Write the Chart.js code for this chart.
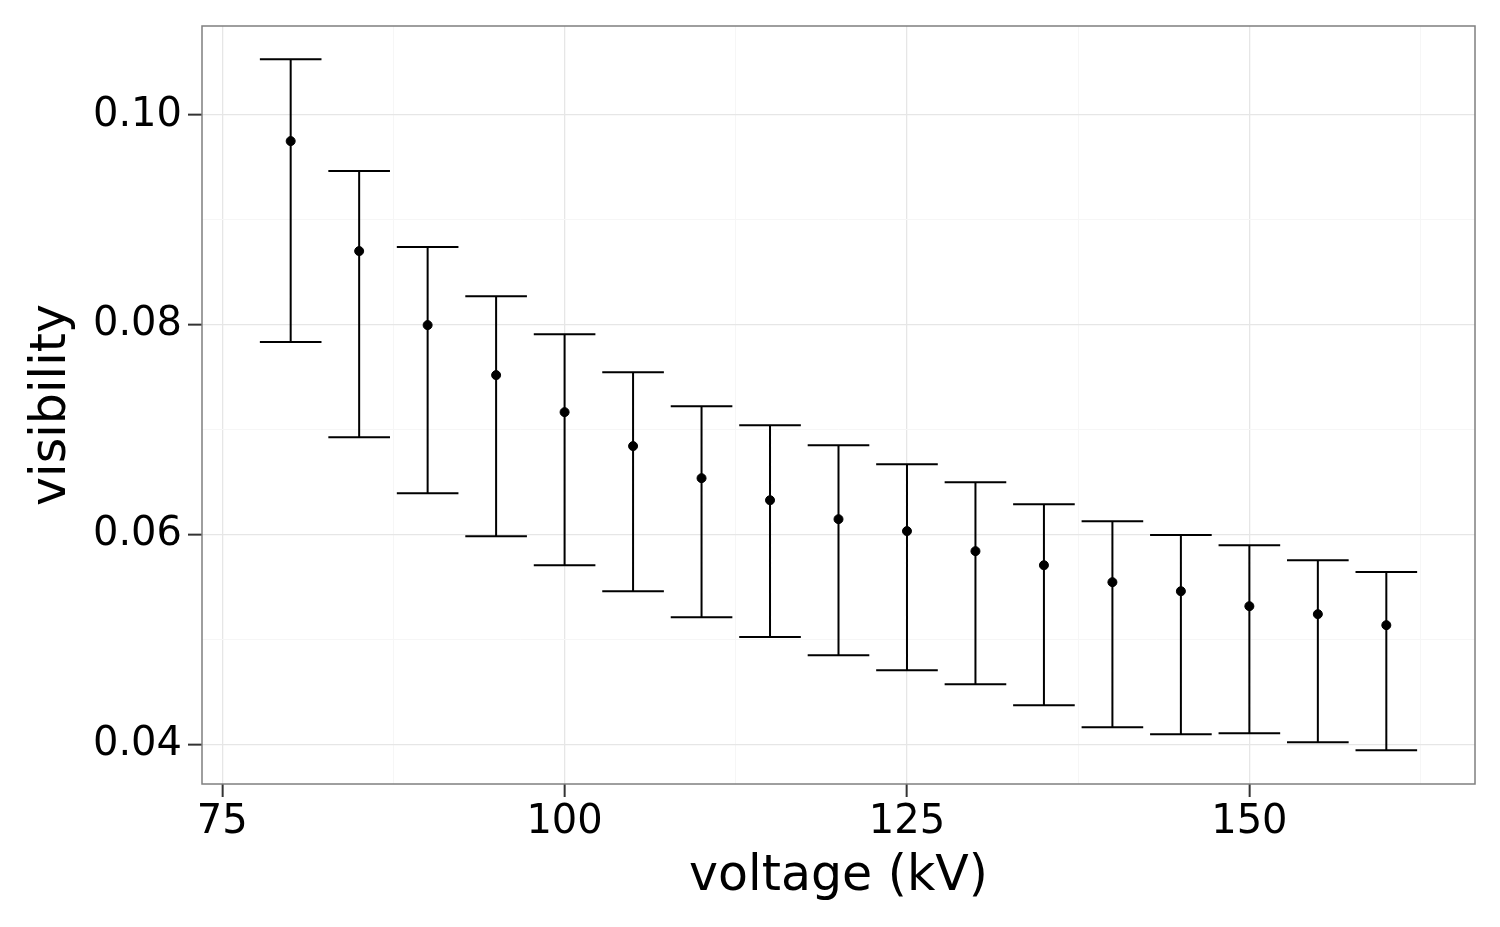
<!DOCTYPE html>
<html lang="en">
<head>
    <meta charset="UTF-8">
    <title>Visibility vs voltage</title>
    <style>
        body {
            margin: 0;
            background-color: #fff;
        }
        #wrap {
            width: 1500px;
            height: 927px;
        }
    </style>
</head>
<body>
    <div id="wrap"><canvas id="chart"></canvas></div>
    <script src="https://cdn.jsdelivr.net/npm/chart.js"></script>
    <script>
        // data
        const voltage = [80, 85, 90, 95, 100, 105, 110, 115, 120, 125, 130, 135, 140, 145, 150, 155, 160];
        const visibility = [0.09752, 0.08703, 0.07997, 0.07520, 0.07167, 0.06843, 0.06537, 0.06327, 0.06146, 0.06032, 0.05841, 0.05707, 0.05545, 0.05459, 0.05316, 0.05240, 0.05135];
        const upper = [0.10534, 0.09466, 0.08741, 0.08273, 0.07911, 0.07548, 0.07224, 0.07043, 0.06852, 0.06671, 0.06499, 0.06289, 0.06127, 0.05994, 0.05898, 0.05755, 0.05641];
        const lower = [0.07835, 0.06928, 0.06394, 0.05984, 0.05707, 0.05459, 0.05211, 0.05021, 0.04849, 0.04706, 0.04572, 0.04372, 0.04162, 0.04095, 0.04105, 0.04019, 0.03943];
        const capHalf = 2.25;

        const xMajor = [75, 100, 125, 150];
        const xMinor = [87.5, 112.5, 137.5, 162.5];
        const yMajor = [0.04, 0.06, 0.08, 0.10];
        const yMinor = [0.05, 0.07, 0.09];

        const points = voltage.map((v, i) => ({ x: v, y: visibility[i] }));

        // error bars as one broken line: stem, top cap, bottom cap
        const bars = [];
        voltage.forEach((v, i) => {
            bars.push({ x: v, y: lower[i] }, { x: v, y: upper[i] }, { x: v, y: null });
            bars.push({ x: v - capHalf, y: upper[i] }, { x: v + capHalf, y: upper[i] }, { x: v, y: null });
            bars.push({ x: v - capHalf, y: lower[i] }, { x: v + capHalf, y: lower[i] }, { x: v, y: null });
        });

        const isIn = (list, val) => list.some(m => Math.abs(m - val) < 1e-9);

        const panelBorder = {
            id: 'panelBorder',
            afterDatasetsDraw(chart) {
                const { ctx, chartArea: a } = chart;
                ctx.save();
                ctx.strokeStyle = '#7f7f7f';
                ctx.lineWidth = 1.5;
                ctx.strokeRect(a.left, a.top, a.right - a.left, a.bottom - a.top);
                ctx.restore();
            }
        };

        const font = 'DejaVu Sans';

        new Chart(document.getElementById('chart'), {
            type: 'scatter',
            data: {
                datasets: [{
                    data: points,
                    backgroundColor: '#000',
                    borderColor: '#000',
                    pointRadius: 4.5,
                    pointHoverRadius: 4.5
                }, {
                    type: 'line',
                    data: bars,
                    showLine: true,
                    spanGaps: false,
                    borderColor: '#000',
                    borderWidth: 2,
                    pointRadius: 0,
                    borderCapStyle: 'butt',
                    fill: false
                }]
            },
            options: {
                responsive: true,
                maintainAspectRatio: false,
                animation: false,
                layout: { padding: { top: 24, right: 25, left: 0, bottom: 0 } },
                plugins: {
                    legend: { display: false },
                    tooltip: { enabled: false }
                },
                scales: {
                    x: {
                        type: 'linear',
                        min: 73.525,
                        max: 166.475,
                        afterBuildTicks: s => { s.ticks = xMajor.concat(xMinor).sort((a, b) => a - b).map(v => ({ value: v })); },
                        afterFit: s => { s.height = 143; },
                        border: { display: false },
                        grid: {
                            color: c => isIn(xMajor, c.tick.value) ? '#e6e6e6' : '#f6f6f6',
                            lineWidth: c => isIn(xMajor, c.tick.value) ? 1.3 : 1,
                            tickColor: c => isIn(xMajor, c.tick.value) ? '#333' : 'rgba(0,0,0,0)',
                            tickWidth: 2,
                            tickLength: 13
                        },
                        ticks: {
                            autoSkip: false,
                            maxRotation: 0,
                            padding: 2,
                            color: '#000',
                            font: { family: font, size: 40 },
                            callback: v => isIn(xMajor, v) ? String(v) : ''
                        },
                        title: {
                            display: true,
                            text: 'voltage (kV)',
                            color: '#000',
                            font: { family: font, size: 49, lineHeight: 1 },
                            padding: { top: 0, bottom: 25 }
                        }
                    },
                    y: {
                        type: 'linear',
                        min: 0.0362,
                        max: 0.1085,
                        afterBuildTicks: s => { s.ticks = yMajor.concat(yMinor).sort((a, b) => a - b).map(v => ({ value: v })); },
                        afterFit: s => { s.width = 202; },
                        border: { display: false },
                        grid: {
                            color: c => isIn(yMajor, c.tick.value) ? '#e6e6e6' : '#f6f6f6',
                            lineWidth: c => isIn(yMajor, c.tick.value) ? 1.3 : 1,
                            tickColor: c => isIn(yMajor, c.tick.value) ? '#333' : 'rgba(0,0,0,0)',
                            tickWidth: 2,
                            tickLength: 14
                        },
                        ticks: {
                            autoSkip: false,
                            padding: 6,
                            color: '#000',
                            font: { family: font, size: 40, lineHeight: 1 },
                            callback: v => isIn(yMajor, v) ? v.toFixed(2) : ''
                        },
                        title: {
                            display: true,
                            text: 'visibility',
                            color: '#000',
                            font: { family: font, size: 49, lineHeight: 1 },
                            padding: { top: 28, bottom: 0 }
                        }
                    }
                }
            },
            plugins: [panelBorder]
        });
    </script>
</body>
</html>
